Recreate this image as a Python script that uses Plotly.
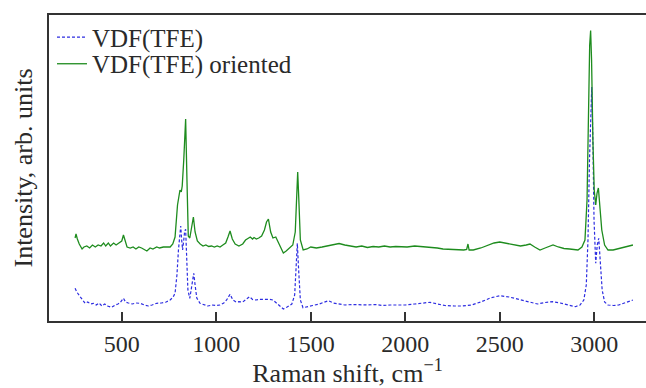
import plotly.graph_objects as go

# Raman shift (cm^-1) and intensities (arb. units)
wn_oriented = [253, 258, 265, 275, 290, 300, 315, 330, 345, 360, 375, 390, 404, 415, 429, 440, 457, 470, 485, 500,
               509, 518, 528, 545, 560, 575, 590, 605, 620, 633, 650, 665, 685, 700, 720, 740, 756, 770, 782, 795,
               808, 815, 820, 828, 838, 845, 852, 860, 868, 879, 888, 900, 915, 930, 945, 960, 975, 990, 1005, 1020,
               1035, 1050, 1062, 1073, 1085, 1100, 1120, 1140, 1155, 1170, 1180, 1192, 1200, 1212, 1225, 1240, 1255,
               1266, 1276, 1288, 1300, 1315, 1330, 1345, 1355, 1370, 1390, 1405, 1418, 1425, 1431, 1437, 1445, 1460,
               1480, 1500, 1530, 1560, 1590, 1620, 1650, 1680, 1710, 1740, 1770, 1800, 1830, 1860, 1890, 1920, 1950,
               1980, 2010, 2050, 2090, 2130, 2170, 2200, 2240, 2280, 2310, 2325, 2332, 2338, 2360, 2400, 2440, 2470,
               2500, 2530, 2570, 2610, 2640, 2660, 2685, 2713, 2740, 2765, 2782, 2810, 2840, 2870, 2900, 2914, 2935,
               2951, 2962, 2970, 2976, 2981, 2986, 2993, 3000, 3008, 3015, 3022, 3030, 3040, 3055, 3073, 3100, 3130,
               3160, 3190, 3205]
int_oriented = [83, 87, 82, 77, 72, 74, 75, 73, 76, 74, 76, 75, 78, 75, 78, 75, 78, 76, 78, 80,
                86, 79, 74, 73, 74, 72, 74, 73, 71, 70, 73, 72, 74, 73, 74, 74, 74, 77, 84, 116,
                131, 129, 135, 161, 202, 141, 85, 83, 93, 104, 89, 80, 77, 75, 76, 74.5, 75, 74, 75, 74,
                76, 78, 84, 90, 82, 77, 75, 77, 81, 83, 84, 82, 83.5, 82, 83, 85, 91,
                99, 102, 89, 83, 84, 78, 71, 68, 70, 73, 76, 89, 121, 149, 121, 81, 71,
                72, 74, 73, 74, 75, 76, 77.5, 76, 75, 74, 75, 73.5, 74.5, 74, 75, 74, 74.5,
                74, 74, 75, 74.5, 73.5, 73, 72, 71.5, 71, 71, 71.5, 77, 71, 71, 73, 76, 78,
                79, 78, 76, 75, 76, 77, 74, 71, 73, 74.5, 76, 74, 72.5, 72, 71.5, 71, 74,
                81, 121, 221, 276, 290.5, 261, 181, 131, 116, 128, 133, 116, 91, 76, 71, 71, 72.5,
                74, 75.5, 76]

wn_plain = [253, 262, 280, 295, 306, 320, 335, 350, 365, 380, 395, 410, 425, 447, 465, 480, 491, 509, 520, 535,
            555, 575, 597, 620, 641, 660, 685, 710, 735, 756, 772, 782, 792, 800, 807, 812, 817, 822, 828, 833,
            838, 844, 850, 860, 868, 875, 881, 888, 897, 914, 935, 955, 980, 1000, 1020, 1040, 1055, 1073, 1088,
            1105, 1120, 1140, 1160, 1176, 1192, 1210, 1230, 1255, 1280, 1300, 1320, 1340, 1355, 1375, 1400, 1415,
            1422, 1429, 1436, 1445, 1459, 1480, 1510, 1545, 1570, 1593, 1620, 1650, 1680, 1720, 1760, 1800, 1840,
            1880, 1920, 1960, 2000, 2050, 2100, 2131, 2170, 2210, 2260, 2300, 2350, 2400, 2450, 2500, 2550, 2600,
            2650, 2700, 2740, 2780, 2820, 2860, 2900, 2925, 2945, 2958, 2967, 2975, 2981, 2987, 2993, 2999, 3008,
            3016, 3024, 3032, 3042, 3055, 3073, 3100, 3130, 3160, 3190, 3205]
int_plain = [32.7, 29, 24.3, 20, 17.7, 19, 17, 17.7, 16, 18, 15, 17, 15, 13.7, 16, 17, 18.3, 22.7, 19, 18,
             17, 18, 17.7, 16, 15, 16, 17.7, 18, 19, 21, 24, 27.7, 46, 71, 89, 95, 81, 71, 81, 90,
             91.7, 61, 31, 22.7, 33, 45, 47.7, 36, 23, 17.7, 16, 15, 16, 15.5, 16, 18, 21, 26.7, 21,
             19, 19.3, 19, 22, 24.3, 21.5, 21, 21.7, 22, 21.7, 21, 18, 15, 12, 14, 17, 26,
             51, 77.7, 51, 21, 13.3, 14, 15.5, 17, 19, 20.3, 18, 17, 16, 16.5, 16, 16, 16.5,
             15.5, 16, 16, 16, 17, 18.5, 18.7, 17, 15.5, 15, 15, 16, 19, 23, 25.3, 24, 21.5,
             19, 17, 18.5, 19.3, 18, 16, 14.3, 16, 21, 36, 81, 161, 211, 234, 181, 101, 57.7,
             76, 82.7, 61, 31, 19, 16, 15.5, 16, 18, 20, 21]

series_names = ["VDF(TFE)", "VDF(TFE) oriented"]
x_ticks = [500, 1000, 1500, 2000, 2500, 3000]

text_color = "#2a2a2a"
serif = "Liberation Serif, Times New Roman, serif"

fig = go.Figure()
fig.add_trace(go.Scatter(
    x=wn_plain, y=int_plain, mode="lines", name=series_names[0],
    line=dict(color="rgb(45,45,225)", width=1.2, dash="3px,2px"),
    legend="legend",
))
fig.add_trace(go.Scatter(
    x=wn_oriented, y=int_oriented, mode="lines", name=series_names[1],
    line=dict(color="rgb(30,140,30)", width=1.3),
    legend="legend2",
))

legend_common = dict(
    x=0.005, xanchor="left", yanchor="middle",
    bgcolor="rgba(0,0,0,0)", borderwidth=0,
    font=dict(family=serif, size=25, color=text_color),
)

fig.update_layout(
    width=646, height=388,
    margin=dict(l=49, r=0, t=15, b=67),
    paper_bgcolor="white", plot_bgcolor="white",
    font=dict(family=serif, size=24, color=text_color),
    showlegend=True,
    legend=dict(y=0.9266, **legend_common),
    legend2=dict(y=0.8399, **legend_common),
    xaxis=dict(
        range=[115, 3274], tickvals=x_ticks, ticktext=[str(v) for v in x_ticks],
        ticks="inside", ticklen=9, tickwidth=1.5, tickcolor="#333",
        showline=True, linewidth=1.5, linecolor="#333", mirror=True,
        showgrid=False, zeroline=False,
        tickfont=dict(family=serif, size=24, color=text_color),
        title=dict(text="Raman shift, cm<sup>−1</sup>",
                   font=dict(family=serif, size=26, color=text_color), standoff=6),
    ),
    yaxis=dict(
        range=[0, 306], showticklabels=False, ticks="",
        showline=True, linewidth=1.5, linecolor="#333", mirror=False,
        showgrid=False, zeroline=False,
        title=dict(text="Intensity, arb. units",
                   font=dict(family=serif, size=26, color=text_color), standoff=7),
    ),
)

fig.write_html("out.html")
